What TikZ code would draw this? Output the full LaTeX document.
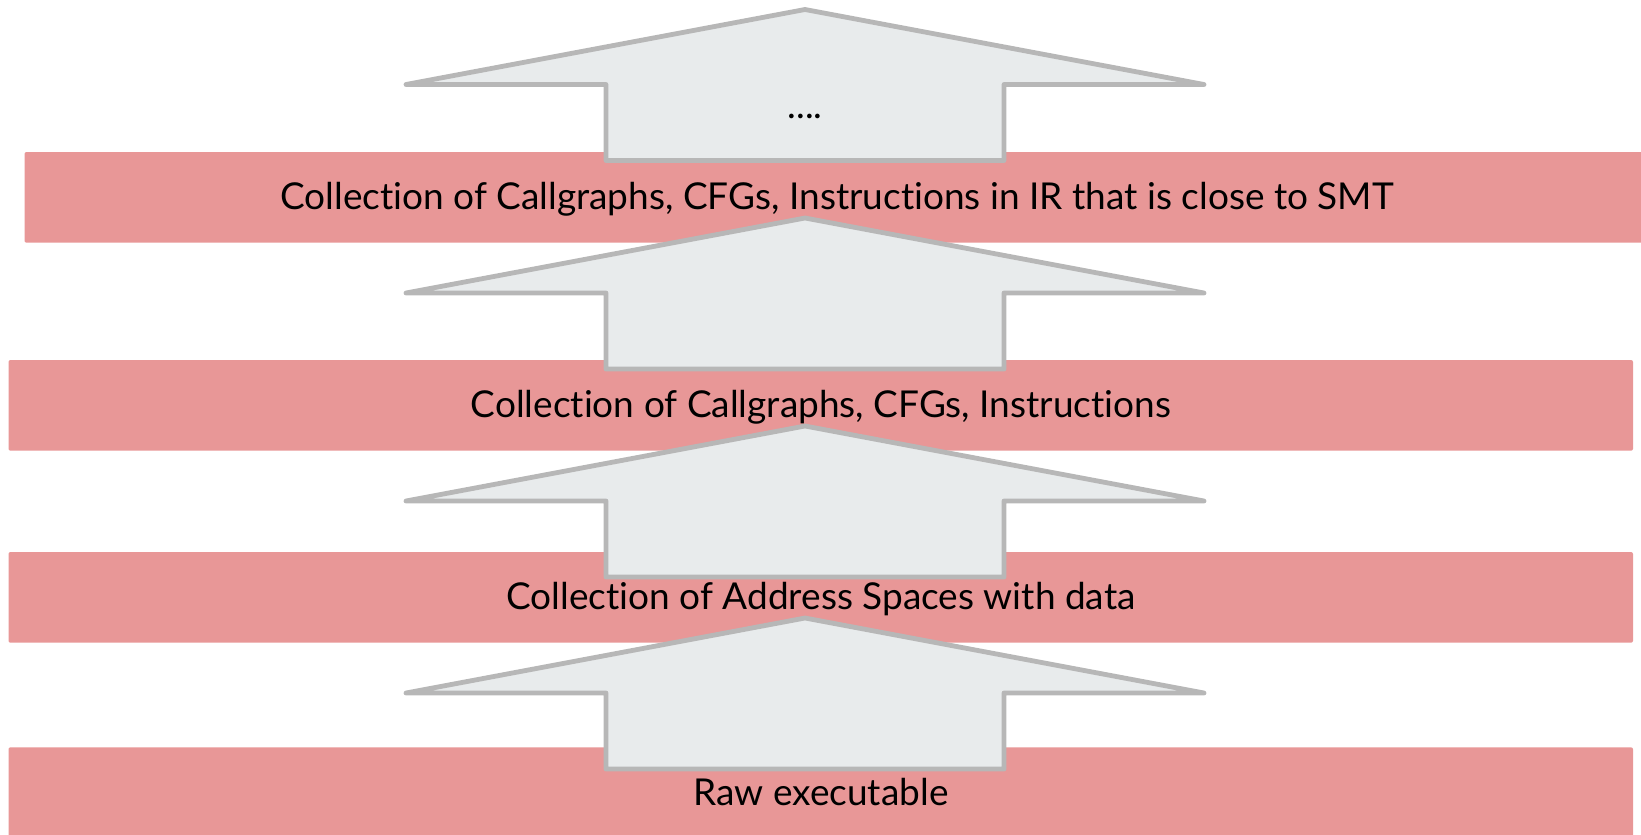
\documentclass[tikz,border=0pt]{standalone}
\usepackage{fontspec}
\setmainfont{Lato}[Ligatures=NoCommon]
\definecolor{barpink}{HTML}{E89797}
\definecolor{arrowfill}{HTML}{E8EBEC}
\definecolor{arrowline}{HTML}{B7B7B7}
\begin{document}
\begin{tikzpicture}[x=1pt,y=-1pt,
  layerbar/.style={fill=barpink,draw=none,rounded corners=2pt},
  layertext/.style={anchor=base,inner sep=0pt,font=\fontsize{37}{42}\selectfont,text=black},
  uparrow/.pic={
    \draw[fill=arrowfill,draw=arrowline,line width=4.8pt,line join=round,line cap=round]
      (0,0) -- (399,75) -- (199,75) -- (199,151) -- (-199,151) -- (-199,75) -- (-399,75) -- cycle;
  }]
\useasboundingbox (0,0) rectangle (1641,835);
% layer bars
\fill[layerbar] (24.5,152) rectangle (1660,242.7);
\fill[layerbar] (8.5,360) rectangle (1633,450.7);
\fill[layerbar] (8.5,552) rectangle (1633,642.7);
\fill[layerbar] (8.5,747.3) rectangle (1633,845);
% arrows between the layers
\pic at (805,9.5) {uparrow};
\pic at (805,218) {uparrow};
\pic at (805,426) {uparrow};
\pic at (805,618) {uparrow};
% labels
\node[layertext] (next) at (805,118) {....};
\node[layertext] (ir) at (837,209.3) {Collection of Callgraphs, CFGs, Instructions in IR that is close to SMT};
\node[layertext] (cfg) at (821,417) {Collection of Callgraphs, CFGs, Instructions};
\node[layertext] (addr) at (821,609.5) {Collection of Address Spaces with data};
\node[layertext] (raw) at (821,805.7) {Raw executable};
\end{tikzpicture}
\end{document}
